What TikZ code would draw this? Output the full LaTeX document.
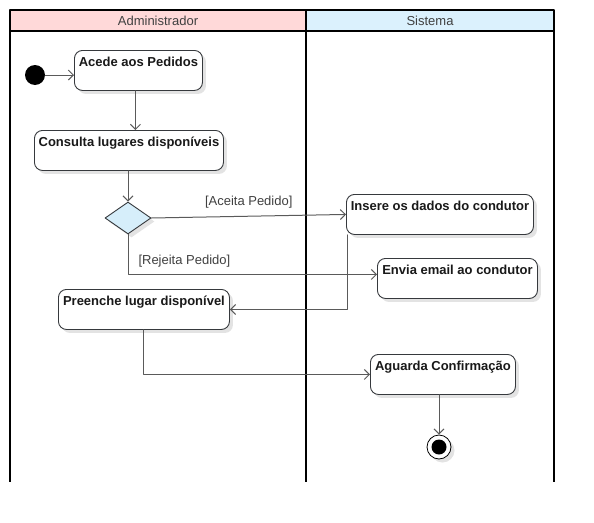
\documentclass[tikz,border=0pt]{standalone}
\usepackage{fontspec}
\setmainfont{Liberation Sans}
\usetikzlibrary{positioning, shapes.geometric, arrows.meta, shadows}
\definecolor{adminred}{HTML}{FFD9D9}
\definecolor{sysblue}{HTML}{DBF1FD}
\definecolor{choiceblue}{HTML}{D6EEFA}
\definecolor{boxline}{HTML}{36393D}
\definecolor{flowgray}{HTML}{5A5A5A}
\tikzset{
  lane/.style={draw=black, line width=1.6pt, line cap=butt},
  lane head/.style={draw=black, line width=1.6pt},
  lane title/.style={font=\fontsize{13}{15}\selectfont, text=black!75},
  soft shadow/.style={drop shadow={shadow xshift=3.5pt, shadow yshift=-3.5pt, fill=black!11, opacity=1}},
  action/.style={draw=boxline, line width=0.9pt, rounded corners=8pt, fill=white,
    font=\fontsize{13}{15}\selectfont\bfseries, text=black!90, anchor=north west,
    minimum width=#1, inner xsep=2pt, inner ysep=4pt, text height=12pt, text depth=20pt,
    soft shadow},
  decision/.style={diamond, draw=boxline, line width=0.9pt, fill=choiceblue,
    minimum width=46pt, minimum height=32pt, inner sep=0pt, soft shadow},
  start/.style={circle, fill=black, minimum size=20pt, inner sep=0pt},
  finish/.style={circle, draw=black, line width=0.8pt, fill=white, minimum size=24pt, inner sep=0pt,
    soft shadow, path picture={\fill[black] (path picture bounding box.center) circle (7.5pt);}},
  flow/.style={draw=flowgray, line width=1pt, -{Straight Barb[length=5pt, width=10pt]}},
  guard/.style={font=\fontsize{13}{15}\selectfont, text=black!75, inner sep=1pt}
}
\begin{document}
\begin{tikzpicture}[x=1pt, y=-1pt, line cap=round, line join=round]
  \useasboundingbox (0,0) rectangle (594,522);
  % swimlanes
  \foreach \lane/\xa/\xb/\col in {Administrador/10/306/adminred, Sistema/306/554/sysblue}
  {
    \path [lane head, fill=\col] (\xa,10) rectangle (\xb,31);
    \node [lane title] (head\lane) at ({(\xa+\xb)/2},20.5) {\lane};
  }
  \path [lane] (10,31) -- (10,482);
  \path [lane] (306,31) -- (306,482);
  \path [lane] (554,31) -- (554,482);
  % activities
  \node [start] (inicio) at (35,75) {};
  \node [action=128pt] (acede) at (74,50) {Acede aos Pedidos};
  \node [action=189pt] (consulta) at (34,130) {Consulta lugares disponíveis};
  \node [decision] (escolha) at (128,218) {};
  \node [action=187pt] (insere) at (346,194) {Insere os dados do condutor};
  \node [action=160pt] (envia) at (377,258) {Envia email ao condutor};
  \node [action=171pt] (preenche) at (58,289) {Preenche lugar disponível};
  \node [action=145pt] (aguarda) at (370,354) {Aguarda Confirmação};
  \node [finish] (fim) at (439,447) {};
  % flows
  \draw [flow] (inicio) -- (inicio -| acede.west);
  \draw [flow] ([xshift=-3pt]acede.south) -- ([xshift=-3pt]acede.south |- consulta.north);
  \draw [flow] (consulta.south -| escolha) -- (escolha.north);
  \draw [flow] (escolha.east) -- node [guard, above=7pt] {[Aceita Pedido]} (insere.west);
  \draw [flow] (escolha.south) |- node [guard, pos=0.5, anchor=south west, xshift=9pt, yshift=6pt] {[Rejeita Pedido]} ([yshift=4pt]envia.west);
  \draw [flow] ([xshift=1pt]insere.south west) |- (preenche.east);
  \draw [flow] (preenche.south) |- (aguarda.west);
  \draw [flow] (fim |- aguarda.south) -- (fim.north);
\end{tikzpicture}
\end{document}
